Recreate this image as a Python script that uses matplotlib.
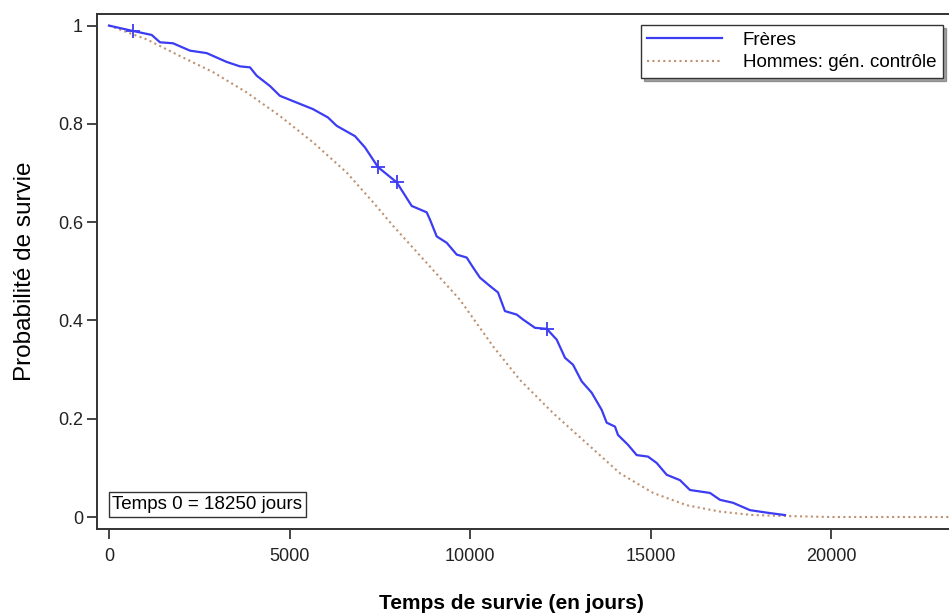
import matplotlib.pyplot as plt
import numpy as np

plt.rcParams['font.family'] = ['Liberation Sans', 'DejaVu Sans']

# Freres: Kaplan-Meier curve (time in days, survival)
freres_t = [0, 664, 1182, 1412, 1772, 2243, 2705, 3259, 3627, 3904, 4090, 4457,
            4734, 5648, 6063, 6304, 6811, 7088, 7448, 7966, 8381, 8796, 8888,
            9073, 9350, 9627, 9903, 10078, 10271, 10548, 10770, 10963, 11287,
            11462, 11794, 12118, 12395, 12625, 12846, 13087, 13364, 13641,
            13779, 14009, 14092, 14369, 14610, 14922, 15163, 15440, 15808,
            16085, 16639, 16916, 17276, 17746, 18300, 18715]
freres_s = [1.000, 0.989, 0.981, 0.966, 0.964, 0.949, 0.944, 0.926, 0.917, 0.915,
            0.898, 0.877, 0.857, 0.830, 0.813, 0.796, 0.775, 0.752, 0.712, 0.681,
            0.633, 0.620, 0.605, 0.571, 0.558, 0.534, 0.528, 0.508, 0.487, 0.470,
            0.457, 0.419, 0.412, 0.402, 0.385, 0.383, 0.361, 0.324, 0.310, 0.276,
            0.253, 0.218, 0.192, 0.184, 0.167, 0.147, 0.126, 0.123, 0.110, 0.086,
            0.075, 0.055, 0.049, 0.035, 0.029, 0.014, 0.008, 0.004]

# censored observations
cens_t = [664, 7448, 7966, 12118]
cens_s = [0.989, 0.712, 0.681, 0.383]

# Hommes: generation controle (expected survival)
ctrl_t = [0, 1043, 1966, 2888, 3812, 4734, 5656, 6581, 7318, 7871, 8796, 9717,
          10637, 11378, 12302, 13226, 14147, 15064, 15995, 16916, 17829, 18760,
          20000, 23300]
ctrl_s = [1.000, 0.972, 0.938, 0.905, 0.864, 0.816, 0.762, 0.701, 0.640, 0.592,
          0.517, 0.442, 0.347, 0.279, 0.211, 0.150, 0.089, 0.049, 0.024, 0.011,
          0.004, 0.002, 0.0, 0.0]

fig = plt.figure(figsize=(9.49, 6.16), dpi=100)
ax = fig.add_axes([0.1022, 0.1412, 0.8978, 0.8361])

ax.plot(ctrl_t, ctrl_s, linestyle=(0, (1, 1.6)), color='#c0916f', lw=1.5,
        label='Hommes: gén. contrôle', zorder=2)
ax.plot(freres_t, freres_s, color='#3c3cf2', lw=1.6, label='Frères', zorder=3)
ax.plot(cens_t, cens_s, linestyle='none', marker='+', ms=10, mew=1.3,
        color='#3c3cf2', zorder=3)

ax.set_xlim(-332, 23256)
ax.set_ylim(-0.0244, 1.0236)
ax.set_xticks([0, 5000, 10000, 15000, 20000])
ax.set_yticks([0, 0.2, 0.4, 0.6, 0.8, 1])
ax.set_yticklabels(['0', '0.2', '0.4', '0.6', '0.8', '1'])

for side in ['left', 'bottom', 'top']:
    ax.spines[side].set_color('#333333')
    ax.spines[side].set_linewidth(1.4)
ax.spines['right'].set_visible(False)
ax.tick_params(direction='out', length=7, width=1.4, color='#444444',
               labelsize=13, labelcolor='#222222')
ax.tick_params(axis='x', pad=7)
ax.tick_params(axis='y', pad=3)

ax.set_xlabel('Temps de survie (en jours)', fontsize=15, fontweight='bold')
ax.xaxis.set_label_coords(0.487, -0.127)
ax.set_ylabel('Probabilité de survie', fontsize=17.5, labelpad=16)

handles, labels = ax.get_legend_handles_labels()
leg = ax.legend(handles[::-1], labels[::-1], loc='upper right',
                bbox_to_anchor=(0.993, 0.9786), fontsize=13.5,
                frameon=True, fancybox=False, shadow=True, handlelength=4,
                borderpad=0.35, borderaxespad=0, labelspacing=0.3,
                handletextpad=1.1)
leg.get_frame().set_edgecolor('#333333')
leg.get_frame().set_linewidth(1.0)

ax.text(0.018, 0.0476, 'Temps 0 = 18250 jours', transform=ax.transAxes,
        fontsize=13.5, va='center', ha='left',
        bbox=dict(boxstyle='square,pad=0.2', fc='white', ec='#333333', lw=1.0))

plt.savefig('out.png', dpi=100)
